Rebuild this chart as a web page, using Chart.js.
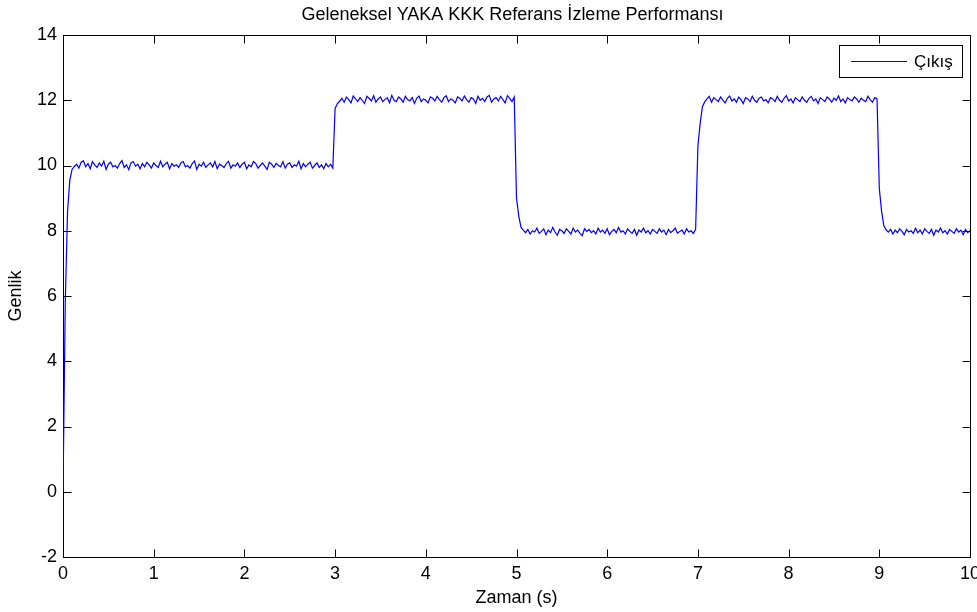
<!DOCTYPE html>
<html>
<head>
<meta charset="utf-8">
<script src="https://cdn.jsdelivr.net/npm/chart.js@4.4.0/dist/chart.umd.min.js"></script>
<style>
  html, body { margin: 0; padding: 0; background: #fff; overflow: hidden; }
  canvas { display: block; }
</style>
</head>
<body>
<canvas id="c" width="977" height="612"></canvas>
<script>
// ---- data ----
const chartTitle = 'Geleneksel YAKA KKK Referans İzleme Performansı';
const xLabel = 'Zaman (s)';
const yLabel = 'Genlik';
const seriesName = 'Çıkış';
const sampleStep = 0.025; // s, sampling grid of the output
const xTicks = [0, 1, 2, 3, 4, 5, 6, 7, 8, 9, 10];
const yTicks = [-2, 0, 2, 4, 6, 8, 10, 12, 14];

// initial rise 0 -> 10
const riseStart = [0, 5.8, 8.6, 9.55, 9.88, 9.97];
const level10 = [
  10.04, 9.92, 10.10, 10.14, 9.96, 10.06, 9.90, 10.12, 10.02, 9.94,
  10.08, 9.98, 10.13, 9.88, 10.04, 10.10, 9.96, 10.00, 9.92, 10.06,
  10.15, 9.94, 10.02, 9.87, 10.08, 10.12, 9.98, 10.04, 9.90, 10.06,
  9.96, 10.10, 10.02, 9.92, 10.08, 10.00, 9.94, 10.13, 9.96, 10.04,
  10.10, 9.90, 10.06, 9.98, 10.02, 9.94, 10.08, 10.12, 9.96, 10.00,
  9.92, 10.06, 10.14, 9.88, 10.04, 9.98, 10.10, 9.94, 10.02, 10.08,
  9.96, 10.12, 9.90, 10.04, 10.00, 9.94, 10.06, 10.13, 9.92, 10.02,
  9.98, 10.08, 9.94, 10.04, 10.10, 9.90, 10.02, 9.96, 10.12, 10.06,
  9.92, 10.00, 10.08, 9.98, 9.88, 10.10, 10.04, 9.94, 10.06, 10.00,
  9.96, 10.12, 9.92, 10.04, 10.08, 9.94, 10.02, 9.98, 10.13, 9.90,
  10.06, 9.96, 10.04, 10.10, 9.92, 10.00, 10.08, 9.94, 10.02, 9.90,
  10.06, 9.96, 10.04, 9.92
];
const stepUp1 = [11.75, 11.9, 11.97];
const level12a = [
  12.06, 11.94, 12.10, 12.02, 11.92, 12.13, 12.04, 11.96, 12.08, 12.00,
  11.90, 12.12, 12.06, 11.98, 12.14, 11.94, 12.04, 12.10, 11.96, 12.02,
  12.08, 11.92, 12.15, 12.00, 11.96, 12.10, 12.04, 11.94, 12.12, 12.02,
  11.98, 12.08, 11.90, 12.06, 12.13, 11.96, 12.04, 12.00, 11.92, 12.10,
  12.06, 11.98, 12.12, 12.02, 11.94, 12.08, 12.14, 11.96, 12.04, 12.00,
  11.92, 12.10, 12.06, 11.98, 12.13, 12.02, 11.94, 12.08, 12.04, 11.90,
  12.12, 12.00, 12.06, 11.96, 12.10, 12.15, 11.94, 12.04, 12.08, 11.98,
  12.12, 12.02, 11.92, 12.14, 12.06, 11.96, 12.10
];
const stepDown1 = [9.0, 8.45, 8.1, 8.02];
const level8a = [
  7.94, 8.04, 7.90, 8.00, 7.96, 8.08, 7.92, 7.98, 8.06, 7.88,
  8.02, 7.94, 8.10, 7.96, 7.86, 8.04, 8.00, 7.92, 8.06, 7.98,
  7.90, 8.08, 7.96, 8.02, 7.92, 7.85, 8.06, 7.98, 8.04, 7.94,
  8.00, 7.90, 8.08, 7.96, 8.02, 7.92, 8.06, 7.88, 7.98, 8.04,
  7.94, 8.10, 7.96, 8.00, 7.90, 8.06, 7.98, 7.92, 8.04, 7.86,
  8.02, 7.96, 8.08, 7.94, 8.00, 7.90, 8.04, 7.98, 7.92, 8.06,
  7.96, 8.02, 7.88, 8.04, 7.94, 8.00, 8.08, 7.92, 7.98, 8.02,
  7.90, 8.06, 7.96, 8.00, 7.92, 8.04
];
const stepUp2 = [10.6, 11.3, 11.8, 11.95];
const level12b = [
  12.04, 12.12, 11.94, 12.08, 12.02, 11.96, 12.10, 12.00, 11.92, 12.06,
  12.13, 11.98, 12.04, 11.94, 12.10, 12.02, 11.90, 12.08, 12.04, 11.96,
  12.12, 12.00, 11.94, 12.06, 12.10, 11.98, 12.02, 11.92, 12.08, 12.04,
  11.96, 12.12, 12.00, 11.94, 12.06, 12.14, 11.98, 12.04, 11.92, 12.08,
  12.02, 11.96, 12.10, 12.00, 11.94, 12.06, 12.12, 11.98, 12.04, 11.90,
  12.08, 12.02, 11.96, 12.10, 12.04, 11.94, 12.06, 12.00, 12.13, 11.96,
  12.04, 11.92, 12.08, 12.02, 11.98, 12.10, 12.04, 11.94, 12.06, 12.00,
  11.96, 12.12, 12.02, 11.94, 12.08, 12.04
];
const stepDown2 = [9.3, 8.6, 8.15, 8.03];
const level8b = [
  7.96, 8.04, 7.90, 8.02, 7.94, 8.06, 7.98, 7.88, 8.04, 7.96,
  8.00, 7.92, 8.08, 7.94, 8.02, 7.90, 8.06, 7.98, 7.92, 8.04,
  7.86, 8.02, 7.96, 8.08, 7.94, 8.00, 7.90, 8.04, 7.98, 7.92,
  8.06, 7.96, 8.02, 7.88, 8.04, 7.94, 8.00
];

// ---- build dataset ----
const outputValues = [].concat(riseStart, level10, stepUp1, level12a, stepDown1,
  level8a, stepUp2, level12b, stepDown2, level8b);
const points = outputValues.map((v, i) => ({ x: +(i * sampleStep).toFixed(3), y: v }));

const FONT = "'Liberation Sans', Arial, sans-serif";
const LINE_COLOR = '#0000ff';

// MATLAB-style box, inward ticks on all four sides, inset legend, title centred on axes
const boxPlugin = {
  id: 'boxPlugin',
  afterLayout(chart) {
    const a = chart.chartArea;
    if (chart.titleBlock) {
      chart.titleBlock.left = a.left;
      chart.titleBlock.right = a.right - 8;
    }
  },
  beforeDatasetsDraw(chart) {
    const { ctx, chartArea: a, scales } = chart;
    const L = Math.round(a.left) + 0.5, R = Math.round(a.right) + 0.5;
    const T = Math.round(a.top) + 0.5, B = Math.round(a.bottom) + 0.5;
    ctx.save();
    ctx.strokeStyle = '#000';
    ctx.lineWidth = 1;
    ctx.strokeRect(L, T, R - L, B - T);
    const tl = 8;
    ctx.beginPath();
    xTicks.forEach(v => {
      const px = Math.round(scales.x.getPixelForValue(v)) + 0.5;
      ctx.moveTo(px, B); ctx.lineTo(px, B - tl);
      ctx.moveTo(px, T); ctx.lineTo(px, T + tl);
    });
    yTicks.forEach(v => {
      const py = Math.round(scales.y.getPixelForValue(v)) + 0.5;
      ctx.moveTo(L, py); ctx.lineTo(L + tl, py);
      ctx.moveTo(R, py); ctx.lineTo(R - tl, py);
    });
    ctx.stroke();
    ctx.restore();
  },
  afterDatasetsDraw(chart) {
    const { ctx } = chart;
    const ds = chart.data.datasets[0];
    const bx = 839.5, by = 45.5, bw = 123, bh = 32;
    const my = by + bh / 2; // 61.5
    ctx.save();
    ctx.fillStyle = '#fff';
    ctx.fillRect(bx, by, bw, bh);
    ctx.strokeStyle = '#000';
    ctx.lineWidth = 1;
    ctx.strokeRect(bx, by, bw, bh);
    ctx.strokeStyle = LINE_COLOR;
    ctx.beginPath();
    ctx.moveTo(851, my);
    ctx.lineTo(907, my);
    ctx.stroke();
    ctx.fillStyle = '#000';
    ctx.font = '17px ' + FONT;
    ctx.textBaseline = 'middle';
    ctx.textAlign = 'left';
    ctx.fillText(ds.label, 914, my + 1);
    ctx.restore();
  }
};

new Chart(document.getElementById('c'), {
  type: 'line',
  data: {
    datasets: [{
      label: seriesName,
      data: points,
      borderColor: LINE_COLOR,
      borderWidth: 1.2,
      pointRadius: 0,
      tension: 0,
      fill: false
    }]
  },
  options: {
    responsive: false,
    animation: false,
    events: [],
    layout: { padding: { left: 0, right: 7, top: 0, bottom: 0 } },
    plugins: {
      legend: { display: false },
      tooltip: { enabled: false },
      title: {
        display: true,
        text: chartTitle,
        color: '#000',
        font: { family: FONT, size: 18, weight: 'normal', lineHeight: 1.2 },
        padding: { top: 4, bottom: 9.4 }
      }
    },
    scales: {
      x: {
        type: 'linear',
        min: 0, max: 10,
        afterBuildTicks: s => { s.ticks = xTicks.map(v => ({ value: v })); },
        afterFit: s => { s.height = 55; s.paddingLeft = 0; s.paddingRight = 0; },
        grid: { display: false, drawTicks: false },
        border: { display: false },
        ticks: { color: '#000', font: { family: FONT, size: 18 }, padding: 6, maxRotation: 0 },
        title: { display: true, text: xLabel, color: '#000', font: { family: FONT, size: 18, lineHeight: 1.2 }, padding: { top: 0, bottom: 3 } }
      },
      y: {
        type: 'linear',
        min: -2, max: 14,
        afterBuildTicks: s => { s.ticks = yTicks.map(v => ({ value: v })); },
        afterFit: s => { s.width = 63; s.paddingTop = 0; s.paddingBottom = 0; },
        grid: { display: false, drawTicks: false },
        border: { display: false },
        ticks: { color: '#000', font: { family: FONT, size: 18 }, padding: 6 },
        title: { display: true, text: yLabel, color: '#000', font: { family: FONT, size: 18, lineHeight: 1.2 }, padding: { top: 5, bottom: 0 } }
      }
    }
  },
  plugins: [boxPlugin]
});
</script>
</body>
</html>
